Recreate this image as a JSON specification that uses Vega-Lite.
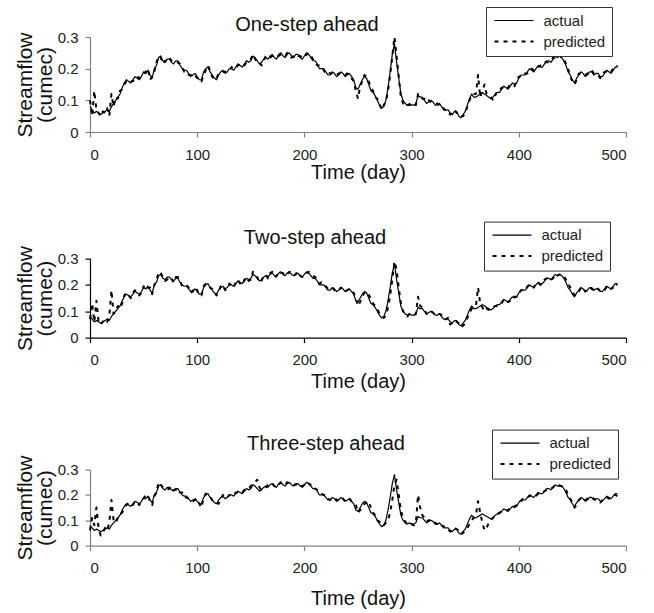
{
  "$schema": "https://vega.github.io/schema/vega-lite/v6.json",
  "background": "white",
  "padding": {"left": 14, "top": 6, "right": 5, "bottom": 5},
  "config": {
    "font": "Liberation Sans",
    "view": {"stroke": null},
    "axis": {
      "grid": false,
      "labelFont": "Liberation Sans",
      "labelFontSize": 15,
      "labelColor": "#222",
      "titleFont": "Liberation Sans",
      "titleFontSize": 20,
      "titleFontWeight": "normal",
      "titleColor": "#111",
      "tickSize": 5,
      "domainColor": "#808080",
      "tickColor": "#808080",
      "domainWidth": 1.2,
      "tickWidth": 1.2
    },
    "title": {"font": "Liberation Sans", "fontSize": 20, "fontWeight": "normal", "color": "#111", "baseline": "bottom", "frame": "group"},
    "legend": {
      "symbolType": "M-3.9,0H3.9",
      "symbolSize": 100,
      "symbolStrokeColor": "black",
      "symbolStrokeWidth": 1.5,
      "labelFont": "Liberation Sans",
      "labelFontSize": 15,
      "labelColor": "#222",
      "strokeColor": "#333",
      "fillColor": "white",
      "padding": 6,
      "rowPadding": 5,
      "symbolOffset": 14.5,
      "labelOffset": 22
    }
  },
  "data": {
    "values": [
      {"t": 0, "actual": 0.08, "p1": 0.10, "p2": 0.07, "p3": 0.06},
      {"t": 2, "actual": 0.07, "p1": 0.05, "p2": 0.13, "p3": 0.11},
      {"t": 4, "actual": 0.06, "p1": 0.13, "p2": 0.06, "p3": 0.08},
      {"t": 6, "actual": 0.065, "p1": 0.07, "p2": 0.14, "p3": 0.15},
      {"t": 8, "actual": 0.06, "p1": 0.06, "p2": 0.06, "p3": 0.07},
      {"t": 10, "actual": 0.055, "p1": 0.05, "p2": 0.05, "p3": 0.04},
      {"t": 12, "actual": 0.06, "p1": 0.065, "p2": 0.06, "p3": 0.05},
      {"t": 14, "actual": 0.065, "p1": 0.06, "p2": 0.07, "p3": 0.07},
      {"t": 16, "actual": 0.07, "p1": 0.075, "p2": 0.06, "p3": 0.06},
      {"t": 18, "actual": 0.065, "p1": 0.05, "p2": 0.08, "p3": 0.09},
      {"t": 20, "actual": 0.08, "p1": 0.12, "p2": 0.18, "p3": 0.18},
      {"t": 22, "actual": 0.09, "p1": 0.08, "p2": 0.09, "p3": 0.10},
      {"t": 24, "actual": 0.10, "p1": 0.11, "p2": 0.10, "p3": 0.09},
      {"t": 26, "actual": 0.11, "p1": 0.105, "p2": 0.12, "p3": 0.11},
      {"t": 28, "actual": 0.12, "p1": 0.13, "p2": 0.11, "p3": 0.12},
      {"t": 30, "actual": 0.14, "p1": 0.135, "p2": 0.13, "p3": 0.13},
      {"t": 32, "actual": 0.155, "p1": 0.15, "p2": 0.16, "p3": 0.15},
      {"t": 34, "actual": 0.165, "p1": 0.16, "p2": 0.17, "p3": 0.16},
      {"t": 36, "actual": 0.16, "p1": 0.165, "p2": 0.16, "p3": 0.17},
      {"t": 38, "actual": 0.155, "p1": 0.16, "p2": 0.15, "p3": 0.165},
      {"t": 40, "actual": 0.165, "p1": 0.16, "p2": 0.17, "p3": 0.16},
      {"t": 42, "actual": 0.175, "p1": 0.17, "p2": 0.18, "p3": 0.175},
      {"t": 44, "actual": 0.17, "p1": 0.175, "p2": 0.165, "p3": 0.17},
      {"t": 46, "actual": 0.165, "p1": 0.17, "p2": 0.16, "p3": 0.16},
      {"t": 48, "actual": 0.175, "p1": 0.18, "p2": 0.17, "p3": 0.175},
      {"t": 50, "actual": 0.19, "p1": 0.185, "p2": 0.195, "p3": 0.185},
      {"t": 52, "actual": 0.185, "p1": 0.19, "p2": 0.18, "p3": 0.20},
      {"t": 54, "actual": 0.195, "p1": 0.20, "p2": 0.19, "p3": 0.20},
      {"t": 56, "actual": 0.18, "p1": 0.165, "p2": 0.19, "p3": 0.175},
      {"t": 58, "actual": 0.17, "p1": 0.175, "p2": 0.165, "p3": 0.16},
      {"t": 60, "actual": 0.20, "p1": 0.19, "p2": 0.20, "p3": 0.195},
      {"t": 62, "actual": 0.21, "p1": 0.22, "p2": 0.215, "p3": 0.21},
      {"t": 64, "actual": 0.235, "p1": 0.24, "p2": 0.25, "p3": 0.25},
      {"t": 66, "actual": 0.24, "p1": 0.235, "p2": 0.245, "p3": 0.24},
      {"t": 68, "actual": 0.225, "p1": 0.215, "p2": 0.23, "p3": 0.23},
      {"t": 70, "actual": 0.22, "p1": 0.225, "p2": 0.215, "p3": 0.225},
      {"t": 72, "actual": 0.23, "p1": 0.225, "p2": 0.22, "p3": 0.22},
      {"t": 74, "actual": 0.23, "p1": 0.235, "p2": 0.23, "p3": 0.225},
      {"t": 76, "actual": 0.22, "p1": 0.225, "p2": 0.225, "p3": 0.235},
      {"t": 78, "actual": 0.215, "p1": 0.22, "p2": 0.21, "p3": 0.22},
      {"t": 80, "actual": 0.225, "p1": 0.22, "p2": 0.23, "p3": 0.22},
      {"t": 82, "actual": 0.225, "p1": 0.22, "p2": 0.23, "p3": 0.225},
      {"t": 84, "actual": 0.21, "p1": 0.215, "p2": 0.215, "p3": 0.21},
      {"t": 86, "actual": 0.20, "p1": 0.205, "p2": 0.195, "p3": 0.21},
      {"t": 88, "actual": 0.195, "p1": 0.19, "p2": 0.20, "p3": 0.19},
      {"t": 90, "actual": 0.195, "p1": 0.19, "p2": 0.20, "p3": 0.19},
      {"t": 92, "actual": 0.185, "p1": 0.18, "p2": 0.19, "p3": 0.185},
      {"t": 94, "actual": 0.175, "p1": 0.18, "p2": 0.17, "p3": 0.18},
      {"t": 96, "actual": 0.18, "p1": 0.185, "p2": 0.175, "p3": 0.175},
      {"t": 98, "actual": 0.185, "p1": 0.18, "p2": 0.19, "p3": 0.18},
      {"t": 100, "actual": 0.175, "p1": 0.17, "p2": 0.18, "p3": 0.185},
      {"t": 102, "actual": 0.165, "p1": 0.17, "p2": 0.16, "p3": 0.165},
      {"t": 104, "actual": 0.165, "p1": 0.16, "p2": 0.16, "p3": 0.15},
      {"t": 106, "actual": 0.19, "p1": 0.18, "p2": 0.195, "p3": 0.19},
      {"t": 108, "actual": 0.20, "p1": 0.195, "p2": 0.205, "p3": 0.205},
      {"t": 110, "actual": 0.205, "p1": 0.21, "p2": 0.20, "p3": 0.20},
      {"t": 112, "actual": 0.19, "p1": 0.195, "p2": 0.19, "p3": 0.195},
      {"t": 114, "actual": 0.18, "p1": 0.175, "p2": 0.185, "p3": 0.18},
      {"t": 116, "actual": 0.17, "p1": 0.165, "p2": 0.17, "p3": 0.17},
      {"t": 118, "actual": 0.165, "p1": 0.17, "p2": 0.16, "p3": 0.17},
      {"t": 120, "actual": 0.18, "p1": 0.185, "p2": 0.175, "p3": 0.165},
      {"t": 122, "actual": 0.19, "p1": 0.185, "p2": 0.195, "p3": 0.185},
      {"t": 124, "actual": 0.195, "p1": 0.19, "p2": 0.20, "p3": 0.20},
      {"t": 126, "actual": 0.185, "p1": 0.19, "p2": 0.18, "p3": 0.19},
      {"t": 128, "actual": 0.19, "p1": 0.195, "p2": 0.185, "p3": 0.19},
      {"t": 130, "actual": 0.20, "p1": 0.195, "p2": 0.205, "p3": 0.20},
      {"t": 132, "actual": 0.20, "p1": 0.205, "p2": 0.20, "p3": 0.195},
      {"t": 134, "actual": 0.195, "p1": 0.20, "p2": 0.19, "p3": 0.20},
      {"t": 136, "actual": 0.205, "p1": 0.20, "p2": 0.21, "p3": 0.21},
      {"t": 138, "actual": 0.215, "p1": 0.21, "p2": 0.22, "p3": 0.21},
      {"t": 140, "actual": 0.21, "p1": 0.215, "p2": 0.205, "p3": 0.215},
      {"t": 142, "actual": 0.205, "p1": 0.21, "p2": 0.20, "p3": 0.21},
      {"t": 144, "actual": 0.215, "p1": 0.21, "p2": 0.22, "p3": 0.22},
      {"t": 146, "actual": 0.225, "p1": 0.22, "p2": 0.23, "p3": 0.22},
      {"t": 148, "actual": 0.22, "p1": 0.225, "p2": 0.215, "p3": 0.225},
      {"t": 150, "actual": 0.225, "p1": 0.23, "p2": 0.22, "p3": 0.235},
      {"t": 152, "actual": 0.24, "p1": 0.245, "p2": 0.25, "p3": 0.245},
      {"t": 154, "actual": 0.235, "p1": 0.23, "p2": 0.24, "p3": 0.25},
      {"t": 156, "actual": 0.225, "p1": 0.22, "p2": 0.23, "p3": 0.26},
      {"t": 158, "actual": 0.215, "p1": 0.22, "p2": 0.21, "p3": 0.23},
      {"t": 160, "actual": 0.22, "p1": 0.21, "p2": 0.215, "p3": 0.22},
      {"t": 162, "actual": 0.23, "p1": 0.225, "p2": 0.235, "p3": 0.225},
      {"t": 164, "actual": 0.235, "p1": 0.24, "p2": 0.24, "p3": 0.23},
      {"t": 166, "actual": 0.23, "p1": 0.235, "p2": 0.225, "p3": 0.24},
      {"t": 168, "actual": 0.24, "p1": 0.235, "p2": 0.245, "p3": 0.24},
      {"t": 170, "actual": 0.245, "p1": 0.24, "p2": 0.25, "p3": 0.245},
      {"t": 172, "actual": 0.235, "p1": 0.24, "p2": 0.23, "p3": 0.235},
      {"t": 174, "actual": 0.23, "p1": 0.235, "p2": 0.235, "p3": 0.23},
      {"t": 176, "actual": 0.245, "p1": 0.24, "p2": 0.25, "p3": 0.24},
      {"t": 178, "actual": 0.25, "p1": 0.245, "p2": 0.245, "p3": 0.25},
      {"t": 180, "actual": 0.24, "p1": 0.245, "p2": 0.245, "p3": 0.245},
      {"t": 182, "actual": 0.235, "p1": 0.24, "p2": 0.235, "p3": 0.24},
      {"t": 184, "actual": 0.245, "p1": 0.25, "p2": 0.24, "p3": 0.25},
      {"t": 186, "actual": 0.25, "p1": 0.245, "p2": 0.25, "p3": 0.245},
      {"t": 188, "actual": 0.24, "p1": 0.235, "p2": 0.245, "p3": 0.245},
      {"t": 190, "actual": 0.235, "p1": 0.24, "p2": 0.235, "p3": 0.24},
      {"t": 192, "actual": 0.245, "p1": 0.245, "p2": 0.24, "p3": 0.24},
      {"t": 194, "actual": 0.245, "p1": 0.24, "p2": 0.25, "p3": 0.245},
      {"t": 196, "actual": 0.235, "p1": 0.24, "p2": 0.235, "p3": 0.235},
      {"t": 198, "actual": 0.23, "p1": 0.235, "p2": 0.23, "p3": 0.235},
      {"t": 200, "actual": 0.24, "p1": 0.235, "p2": 0.24, "p3": 0.24},
      {"t": 202, "actual": 0.25, "p1": 0.245, "p2": 0.245, "p3": 0.25},
      {"t": 204, "actual": 0.245, "p1": 0.25, "p2": 0.25, "p3": 0.245},
      {"t": 206, "actual": 0.235, "p1": 0.24, "p2": 0.245, "p3": 0.24},
      {"t": 208, "actual": 0.225, "p1": 0.23, "p2": 0.235, "p3": 0.24},
      {"t": 210, "actual": 0.225, "p1": 0.22, "p2": 0.23, "p3": 0.225},
      {"t": 212, "actual": 0.215, "p1": 0.21, "p2": 0.22, "p3": 0.22},
      {"t": 214, "actual": 0.20, "p1": 0.21, "p2": 0.205, "p3": 0.21},
      {"t": 216, "actual": 0.20, "p1": 0.205, "p2": 0.21, "p3": 0.205},
      {"t": 218, "actual": 0.20, "p1": 0.195, "p2": 0.20, "p3": 0.20},
      {"t": 220, "actual": 0.19, "p1": 0.185, "p2": 0.195, "p3": 0.20},
      {"t": 222, "actual": 0.18, "p1": 0.19, "p2": 0.185, "p3": 0.185},
      {"t": 224, "actual": 0.18, "p1": 0.185, "p2": 0.185, "p3": 0.18},
      {"t": 226, "actual": 0.19, "p1": 0.185, "p2": 0.19, "p3": 0.185},
      {"t": 228, "actual": 0.185, "p1": 0.18, "p2": 0.18, "p3": 0.19},
      {"t": 230, "actual": 0.175, "p1": 0.18, "p2": 0.175, "p3": 0.18},
      {"t": 232, "actual": 0.18, "p1": 0.185, "p2": 0.18, "p3": 0.18},
      {"t": 234, "actual": 0.19, "p1": 0.185, "p2": 0.19, "p3": 0.19},
      {"t": 236, "actual": 0.185, "p1": 0.18, "p2": 0.185, "p3": 0.185},
      {"t": 238, "actual": 0.175, "p1": 0.18, "p2": 0.175, "p3": 0.175},
      {"t": 240, "actual": 0.18, "p1": 0.185, "p2": 0.18, "p3": 0.18},
      {"t": 242, "actual": 0.185, "p1": 0.18, "p2": 0.185, "p3": 0.185},
      {"t": 244, "actual": 0.175, "p1": 0.17, "p2": 0.175, "p3": 0.175},
      {"t": 246, "actual": 0.165, "p1": 0.16, "p2": 0.17, "p3": 0.17},
      {"t": 248, "actual": 0.14, "p1": 0.13, "p2": 0.15, "p3": 0.16},
      {"t": 250, "actual": 0.135, "p1": 0.105, "p2": 0.12, "p3": 0.13},
      {"t": 252, "actual": 0.15, "p1": 0.145, "p2": 0.135, "p3": 0.14},
      {"t": 254, "actual": 0.165, "p1": 0.16, "p2": 0.155, "p3": 0.15},
      {"t": 256, "actual": 0.175, "p1": 0.18, "p2": 0.17, "p3": 0.165},
      {"t": 258, "actual": 0.17, "p1": 0.175, "p2": 0.175, "p3": 0.17},
      {"t": 260, "actual": 0.15, "p1": 0.16, "p2": 0.165, "p3": 0.175},
      {"t": 262, "actual": 0.13, "p1": 0.14, "p2": 0.145, "p3": 0.15},
      {"t": 264, "actual": 0.125, "p1": 0.13, "p2": 0.13, "p3": 0.13},
      {"t": 266, "actual": 0.115, "p1": 0.11, "p2": 0.12, "p3": 0.12},
      {"t": 268, "actual": 0.10, "p1": 0.105, "p2": 0.11, "p3": 0.10},
      {"t": 270, "actual": 0.085, "p1": 0.09, "p2": 0.09, "p3": 0.095},
      {"t": 272, "actual": 0.075, "p1": 0.07, "p2": 0.08, "p3": 0.08},
      {"t": 274, "actual": 0.08, "p1": 0.085, "p2": 0.075, "p3": 0.08},
      {"t": 276, "actual": 0.10, "p1": 0.095, "p2": 0.085, "p3": 0.09},
      {"t": 278, "actual": 0.14, "p1": 0.13, "p2": 0.115, "p3": 0.10},
      {"t": 280, "actual": 0.19, "p1": 0.18, "p2": 0.16, "p3": 0.13},
      {"t": 282, "actual": 0.245, "p1": 0.24, "p2": 0.22, "p3": 0.18},
      {"t": 284, "actual": 0.28, "p1": 0.30, "p2": 0.29, "p3": 0.24},
      {"t": 286, "actual": 0.22, "p1": 0.24, "p2": 0.26, "p3": 0.26},
      {"t": 288, "actual": 0.17, "p1": 0.175, "p2": 0.19, "p3": 0.20},
      {"t": 290, "actual": 0.12, "p1": 0.11, "p2": 0.13, "p3": 0.14},
      {"t": 292, "actual": 0.10, "p1": 0.09, "p2": 0.10, "p3": 0.11},
      {"t": 294, "actual": 0.09, "p1": 0.095, "p2": 0.09, "p3": 0.095},
      {"t": 296, "actual": 0.085, "p1": 0.085, "p2": 0.08, "p3": 0.085},
      {"t": 298, "actual": 0.09, "p1": 0.085, "p2": 0.09, "p3": 0.09},
      {"t": 300, "actual": 0.085, "p1": 0.09, "p2": 0.085, "p3": 0.085},
      {"t": 302, "actual": 0.085, "p1": 0.09, "p2": 0.085, "p3": 0.08},
      {"t": 304, "actual": 0.09, "p1": 0.085, "p2": 0.09, "p3": 0.09},
      {"t": 306, "actual": 0.115, "p1": 0.12, "p2": 0.155, "p3": 0.20},
      {"t": 308, "actual": 0.11, "p1": 0.115, "p2": 0.12, "p3": 0.15},
      {"t": 310, "actual": 0.11, "p1": 0.105, "p2": 0.115, "p3": 0.12},
      {"t": 312, "actual": 0.10, "p1": 0.105, "p2": 0.105, "p3": 0.11},
      {"t": 314, "actual": 0.09, "p1": 0.095, "p2": 0.09, "p3": 0.095},
      {"t": 316, "actual": 0.095, "p1": 0.10, "p2": 0.10, "p3": 0.10},
      {"t": 318, "actual": 0.10, "p1": 0.095, "p2": 0.10, "p3": 0.10},
      {"t": 320, "actual": 0.095, "p1": 0.09, "p2": 0.095, "p3": 0.09},
      {"t": 322, "actual": 0.085, "p1": 0.09, "p2": 0.085, "p3": 0.09},
      {"t": 324, "actual": 0.085, "p1": 0.09, "p2": 0.09, "p3": 0.085},
      {"t": 326, "actual": 0.09, "p1": 0.085, "p2": 0.09, "p3": 0.09},
      {"t": 328, "actual": 0.08, "p1": 0.075, "p2": 0.085, "p3": 0.08},
      {"t": 330, "actual": 0.07, "p1": 0.075, "p2": 0.07, "p3": 0.075},
      {"t": 332, "actual": 0.07, "p1": 0.065, "p2": 0.07, "p3": 0.075},
      {"t": 334, "actual": 0.07, "p1": 0.065, "p2": 0.075, "p3": 0.065},
      {"t": 336, "actual": 0.06, "p1": 0.055, "p2": 0.05, "p3": 0.055},
      {"t": 338, "actual": 0.055, "p1": 0.06, "p2": 0.055, "p3": 0.06},
      {"t": 340, "actual": 0.065, "p1": 0.07, "p2": 0.065, "p3": 0.07},
      {"t": 342, "actual": 0.065, "p1": 0.06, "p2": 0.06, "p3": 0.065},
      {"t": 344, "actual": 0.05, "p1": 0.05, "p2": 0.055, "p3": 0.06},
      {"t": 346, "actual": 0.045, "p1": 0.05, "p2": 0.04, "p3": 0.045},
      {"t": 348, "actual": 0.055, "p1": 0.05, "p2": 0.045, "p3": 0.05},
      {"t": 350, "actual": 0.065, "p1": 0.06, "p2": 0.055, "p3": 0.06},
      {"t": 352, "actual": 0.085, "p1": 0.08, "p2": 0.075, "p3": 0.07},
      {"t": 354, "actual": 0.105, "p1": 0.10, "p2": 0.09, "p3": 0.085},
      {"t": 356, "actual": 0.12, "p1": 0.115, "p2": 0.11, "p3": 0.10},
      {"t": 358, "actual": 0.11, "p1": 0.12, "p2": 0.115, "p3": 0.11},
      {"t": 360, "actual": 0.11, "p1": 0.12, "p2": 0.12, "p3": 0.12},
      {"t": 362, "actual": 0.115, "p1": 0.18, "p2": 0.19, "p3": 0.175},
      {"t": 364, "actual": 0.12, "p1": 0.11, "p2": 0.13, "p3": 0.13},
      {"t": 366, "actual": 0.125, "p1": 0.13, "p2": 0.115, "p3": 0.09},
      {"t": 368, "actual": 0.12, "p1": 0.15, "p2": 0.10, "p3": 0.06},
      {"t": 370, "actual": 0.115, "p1": 0.12, "p2": 0.11, "p3": 0.07},
      {"t": 372, "actual": 0.11, "p1": 0.115, "p2": 0.105, "p3": 0.09},
      {"t": 374, "actual": 0.105, "p1": 0.11, "p2": 0.11, "p3": 0.10},
      {"t": 376, "actual": 0.11, "p1": 0.10, "p2": 0.115, "p3": 0.11},
      {"t": 378, "actual": 0.12, "p1": 0.115, "p2": 0.12, "p3": 0.115},
      {"t": 380, "actual": 0.125, "p1": 0.13, "p2": 0.12, "p3": 0.125},
      {"t": 382, "actual": 0.125, "p1": 0.13, "p2": 0.125, "p3": 0.13},
      {"t": 384, "actual": 0.135, "p1": 0.14, "p2": 0.13, "p3": 0.135},
      {"t": 386, "actual": 0.145, "p1": 0.14, "p2": 0.145, "p3": 0.14},
      {"t": 388, "actual": 0.14, "p1": 0.135, "p2": 0.145, "p3": 0.14},
      {"t": 390, "actual": 0.135, "p1": 0.14, "p2": 0.135, "p3": 0.14},
      {"t": 392, "actual": 0.145, "p1": 0.15, "p2": 0.14, "p3": 0.15},
      {"t": 394, "actual": 0.155, "p1": 0.15, "p2": 0.155, "p3": 0.15},
      {"t": 396, "actual": 0.15, "p1": 0.145, "p2": 0.155, "p3": 0.155},
      {"t": 398, "actual": 0.155, "p1": 0.16, "p2": 0.155, "p3": 0.16},
      {"t": 400, "actual": 0.17, "p1": 0.175, "p2": 0.165, "p3": 0.17},
      {"t": 402, "actual": 0.18, "p1": 0.175, "p2": 0.18, "p3": 0.175},
      {"t": 404, "actual": 0.18, "p1": 0.185, "p2": 0.18, "p3": 0.185},
      {"t": 406, "actual": 0.18, "p1": 0.185, "p2": 0.18, "p3": 0.185},
      {"t": 408, "actual": 0.19, "p1": 0.185, "p2": 0.195, "p3": 0.19},
      {"t": 410, "actual": 0.20, "p1": 0.195, "p2": 0.20, "p3": 0.195},
      {"t": 412, "actual": 0.195, "p1": 0.20, "p2": 0.19, "p3": 0.20},
      {"t": 414, "actual": 0.19, "p1": 0.195, "p2": 0.19, "p3": 0.195},
      {"t": 416, "actual": 0.20, "p1": 0.195, "p2": 0.205, "p3": 0.195},
      {"t": 418, "actual": 0.21, "p1": 0.205, "p2": 0.21, "p3": 0.205},
      {"t": 420, "actual": 0.205, "p1": 0.21, "p2": 0.20, "p3": 0.21},
      {"t": 422, "actual": 0.205, "p1": 0.21, "p2": 0.205, "p3": 0.21},
      {"t": 424, "actual": 0.215, "p1": 0.22, "p2": 0.22, "p3": 0.215},
      {"t": 426, "actual": 0.225, "p1": 0.22, "p2": 0.225, "p3": 0.22},
      {"t": 428, "actual": 0.225, "p1": 0.22, "p2": 0.23, "p3": 0.225},
      {"t": 430, "actual": 0.22, "p1": 0.225, "p2": 0.22, "p3": 0.225},
      {"t": 432, "actual": 0.23, "p1": 0.235, "p2": 0.225, "p3": 0.23},
      {"t": 434, "actual": 0.24, "p1": 0.235, "p2": 0.24, "p3": 0.24},
      {"t": 436, "actual": 0.235, "p1": 0.24, "p2": 0.235, "p3": 0.24},
      {"t": 438, "actual": 0.24, "p1": 0.245, "p2": 0.24, "p3": 0.235},
      {"t": 440, "actual": 0.235, "p1": 0.23, "p2": 0.24, "p3": 0.235},
      {"t": 442, "actual": 0.225, "p1": 0.23, "p2": 0.235, "p3": 0.23},
      {"t": 444, "actual": 0.21, "p1": 0.215, "p2": 0.22, "p3": 0.22},
      {"t": 446, "actual": 0.19, "p1": 0.20, "p2": 0.205, "p3": 0.20},
      {"t": 448, "actual": 0.18, "p1": 0.175, "p2": 0.19, "p3": 0.185},
      {"t": 450, "actual": 0.165, "p1": 0.16, "p2": 0.175, "p3": 0.17},
      {"t": 452, "actual": 0.155, "p1": 0.15, "p2": 0.16, "p3": 0.15},
      {"t": 454, "actual": 0.17, "p1": 0.165, "p2": 0.165, "p3": 0.16},
      {"t": 456, "actual": 0.18, "p1": 0.185, "p2": 0.175, "p3": 0.18},
      {"t": 458, "actual": 0.19, "p1": 0.185, "p2": 0.19, "p3": 0.185},
      {"t": 460, "actual": 0.185, "p1": 0.18, "p2": 0.19, "p3": 0.19},
      {"t": 462, "actual": 0.175, "p1": 0.18, "p2": 0.175, "p3": 0.18},
      {"t": 464, "actual": 0.18, "p1": 0.185, "p2": 0.18, "p3": 0.185},
      {"t": 466, "actual": 0.19, "p1": 0.185, "p2": 0.19, "p3": 0.19},
      {"t": 468, "actual": 0.19, "p1": 0.195, "p2": 0.185, "p3": 0.19},
      {"t": 470, "actual": 0.18, "p1": 0.185, "p2": 0.18, "p3": 0.185},
      {"t": 472, "actual": 0.185, "p1": 0.18, "p2": 0.19, "p3": 0.18},
      {"t": 474, "actual": 0.185, "p1": 0.18, "p2": 0.185, "p3": 0.18},
      {"t": 476, "actual": 0.175, "p1": 0.17, "p2": 0.175, "p3": 0.17},
      {"t": 478, "actual": 0.175, "p1": 0.18, "p2": 0.175, "p3": 0.18},
      {"t": 480, "actual": 0.185, "p1": 0.19, "p2": 0.18, "p3": 0.19},
      {"t": 482, "actual": 0.195, "p1": 0.19, "p2": 0.195, "p3": 0.19},
      {"t": 484, "actual": 0.19, "p1": 0.185, "p2": 0.195, "p3": 0.185},
      {"t": 486, "actual": 0.185, "p1": 0.19, "p2": 0.185, "p3": 0.195},
      {"t": 488, "actual": 0.195, "p1": 0.20, "p2": 0.19, "p3": 0.20},
      {"t": 490, "actual": 0.205, "p1": 0.20, "p2": 0.205, "p3": 0.20},
      {"t": 492, "actual": 0.205, "p1": 0.21, "p2": 0.20, "p3": 0.195}
    ]
  },
  "bounds": "flush",
  "spacing": 126.6,
  "resolve": {
    "scale": {"strokeDash": "independent", "strokeWidth": "independent"},
    "legend": {"strokeDash": "independent", "strokeWidth": "independent"}
  },
  "vconcat": [
    {
      "width": 536,
      "height": 95,
      "title": {"text": "One-step ahead", "dx": -51, "offset": -28},
      "transform": [{"fold": ["actual", "p1"], "as": ["series", "value"]}],
      "mark": {"type": "line", "color": "black", "strokeJoin": "round"},
      "encoding": {
        "x": {
          "field": "t", "type": "quantitative",
          "scale": {"domain": [0, 500], "nice": false},
          "axis": {"values": [0, 100, 200, 300, 400, 500], "title": "Time (day)", "labelPadding": 10, "titlePadding": 0}
        },
        "y": {
          "field": "value", "type": "quantitative",
          "scale": {"domain": [0, 0.3], "nice": false},
          "axis": {"values": [0, 0.1, 0.2, 0.3], "format": "~g", "title": ["Streamflow", "(cumec)"], "titleFontSize": 21, "titleLineHeight": 20, "labelPadding": 7, "titlePadding": 2}
        },
        "strokeDash": {
          "field": "series", "type": "nominal",
          "scale": {"domain": ["actual", "p1"], "range": [[1, 0], [4, 5]]},
          "legend": {"title": null, "orient": "none", "legendX": 396, "legendY": -30, "labelExpr": "datum.label == 'actual' ? 'actual' : 'predicted'"}
        },
        "strokeWidth": {
          "field": "series", "type": "nominal",
          "scale": {"domain": ["actual", "p1"], "range": [1.2, 2]},
          "legend": {"title": null, "orient": "none", "legendX": 396, "legendY": -30, "labelExpr": "datum.label == 'actual' ? 'actual' : 'predicted'"}
        }
      }
    },
    {
      "bounds": "flush",
      "spacing": 132,
      "resolve": {
        "scale": {"strokeDash": "independent", "strokeWidth": "independent"},
        "legend": {"strokeDash": "independent", "strokeWidth": "independent"}
      },
      "vconcat": [
        {
          "width": 536,
          "height": 79,
          "title": {"text": "Two-step ahead", "dx": -43, "offset": -27},
          "transform": [{"fold": ["actual", "p2"], "as": ["series", "value"]}],
          "mark": {"type": "line", "color": "black", "strokeJoin": "round"},
          "encoding": {
            "x": {
              "field": "t", "type": "quantitative",
              "scale": {"domain": [0, 500], "nice": false},
              "axis": {"values": [0, 100, 200, 300, 400, 500], "title": "Time (day)", "labelPadding": 10, "titlePadding": 4, "domainColor": "black", "tickColor": "black"}
            },
            "y": {
              "field": "value", "type": "quantitative",
              "scale": {"domain": [0, 0.3], "nice": false},
              "axis": {"values": [0, 0.1, 0.2, 0.3], "format": "~g", "title": ["Streamflow", "(cumec)"], "titleFontSize": 21, "titleLineHeight": 20, "labelPadding": 7, "titlePadding": 2, "domainColor": "black", "tickColor": "black"}
            },
            "strokeDash": {
              "field": "series", "type": "nominal",
              "scale": {"domain": ["actual", "p2"], "range": [[1, 0], [4, 5]]},
              "legend": {"title": null, "orient": "none", "legendX": 394, "legendY": -37, "labelExpr": "datum.label == 'actual' ? 'actual' : 'predicted'"}
            },
            "strokeWidth": {
              "field": "series", "type": "nominal",
              "scale": {"domain": ["actual", "p2"], "range": [1.2, 2]},
              "legend": {"title": null, "orient": "none", "legendX": 394, "legendY": -37, "labelExpr": "datum.label == 'actual' ? 'actual' : 'predicted'"}
            }
          }
        },
        {
          "width": 536,
          "height": 76,
          "title": {"text": "Three-step ahead", "dx": -32, "offset": -25},
          "transform": [{"fold": ["actual", "p3"], "as": ["series", "value"]}],
          "mark": {"type": "line", "color": "black", "strokeJoin": "round"},
          "encoding": {
            "x": {
              "field": "t", "type": "quantitative",
              "scale": {"domain": [0, 500], "nice": false},
              "axis": {"values": [0, 100, 200, 300, 400, 500], "title": "Time (day)", "labelPadding": 10, "titlePadding": 13}
            },
            "y": {
              "field": "value", "type": "quantitative",
              "scale": {"domain": [0, 0.3], "nice": false},
              "axis": {"values": [0, 0.1, 0.2, 0.3], "format": "~g", "title": ["Streamflow", "(cumec)"], "titleFontSize": 21, "titleLineHeight": 20, "labelPadding": 7, "titlePadding": 2}
            },
            "strokeDash": {
              "field": "series", "type": "nominal",
              "scale": {"domain": ["actual", "p3"], "range": [[1, 0], [4, 5]]},
              "legend": {"title": null, "orient": "none", "legendX": 402, "legendY": -40, "labelExpr": "datum.label == 'actual' ? 'actual' : 'predicted'"}
            },
            "strokeWidth": {
              "field": "series", "type": "nominal",
              "scale": {"domain": ["actual", "p3"], "range": [1.2, 2]},
              "legend": {"title": null, "orient": "none", "legendX": 402, "legendY": -40, "labelExpr": "datum.label == 'actual' ? 'actual' : 'predicted'"}
            }
          }
        }
      ]
    }
  ]
}
